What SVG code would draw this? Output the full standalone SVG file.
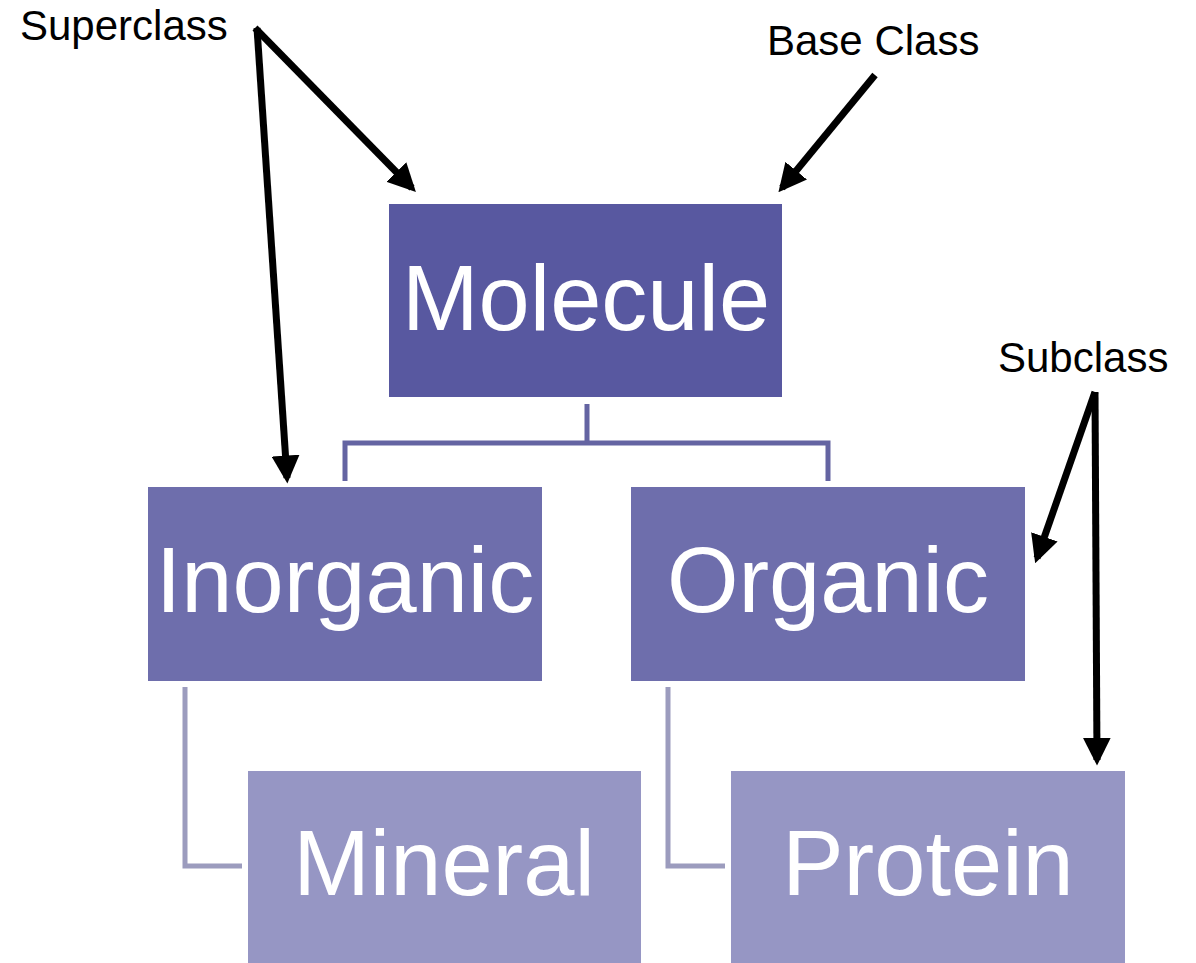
<svg xmlns="http://www.w3.org/2000/svg" width="1196" height="963" viewBox="0 0 1196 963">
<defs>
<marker id="ah" markerWidth="4" markerHeight="4" refX="3.2" refY="2" orient="auto" markerUnits="strokeWidth">
<path d="M0,0 L4,2 L0,4 Z" fill="#000"/>
</marker>
<style>
.lbl{font-family:"Liberation Sans",Arial,sans-serif;font-size:42px;fill:#000}
.nt{font-family:"Liberation Sans",Arial,sans-serif;font-size:92px;fill:#fff;text-anchor:middle}
.l1{fill:#5858A0}
.l2{fill:#6E6EAC}
.l3{fill:#9696C4}
.c1{fill:none;stroke:#6464A2;stroke-width:5}
.c2{fill:none;stroke:#9C9CBE;stroke-width:5}
.ar{fill:none;stroke:#000;stroke-width:7;marker-end:url(#ah)}
</style>
</defs>
<rect width="1196" height="963" fill="#fff"/>
<g id="connectors">
<path class="c1" d="M587,404 V441 M345,481 V443 H828 V481"/>
<path class="c2" d="M185,687 V866 H242"/>
<path class="c2" d="M668,687 V866 H725"/>
</g>
<g id="node-molecule"><rect class="l1" x="389" y="204" width="393" height="193"/><text class="nt" x="586" y="330">Molecule</text></g>
<g id="node-inorganic"><rect class="l2" x="148" y="487" width="394" height="194"/><text class="nt" x="345" y="612">Inorganic</text></g>
<g id="node-organic"><rect class="l2" x="631" y="487" width="394" height="194"/><text class="nt" x="828" y="612">Organic</text></g>
<g id="node-mineral"><rect class="l3" x="248" y="771" width="393" height="192"/><text class="nt" x="444" y="895">Mineral</text></g>
<g id="node-protein"><rect class="l3" x="731" y="771" width="394" height="192"/><text class="nt" x="928" y="895">Protein</text></g>
<g id="annotations">
<text class="lbl" x="20" y="40">Superclass</text>
<text class="lbl" x="767" y="55">Base Class</text>
<text class="lbl" x="998" y="372">Subclass</text>
<path class="ar" d="M255,28 L412,188"/>
<path class="ar" d="M257,28 L287,478"/>
<path class="ar" d="M875,75 L782,188"/>
<path class="ar" d="M1095,392 L1037,558"/>
<path class="ar" d="M1095,392 L1097,760"/>
</g>
</svg>
